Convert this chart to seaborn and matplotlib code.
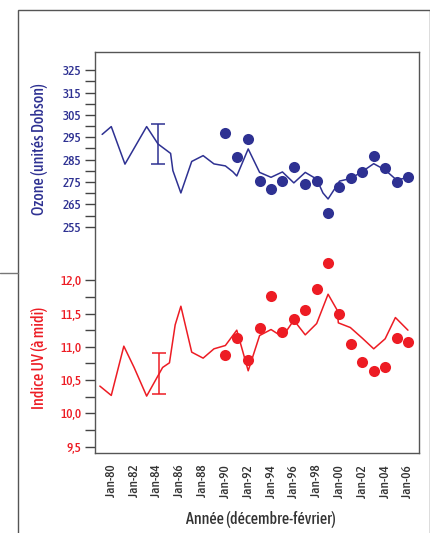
import numpy as np
import matplotlib
matplotlib.use('Agg')
from matplotlib import pyplot as plt
from matplotlib import ticker, font_manager
from matplotlib.lines import Line2D
from matplotlib.patches import Rectangle
import seaborn as sns

sns.set_style('white')

# --- data ---
oz_line_year = [1979.2, 1980.0, 1981.2, 1983.1, 1984.1, 1985.2, 1985.4, 1986.1, 1987.05, 1988.05,
                1989.0, 1990.0, 1990.65, 1991.0, 1992.0, 1993.0, 1994.0, 1995.0, 1996.0, 1997.0,
                1998.0, 1998.55, 1999.0, 1999.8, 2000.0, 2001.0, 2002.0, 2003.0, 2004.0, 2005.0, 2006.0]
oz_line_val = [296.3, 299.8, 283.0, 299.8, 292.0, 287.8, 280.1, 270.1, 284.2, 286.8,
               283.1, 282.2, 279.6, 277.7, 289.8, 279.3, 277.1, 279.5, 274.6, 279.3,
               276.3, 270.1, 267.4, 273.7, 275.4, 276.6, 279.7, 283.2, 280.4, 275.9, 277.0]

uv_line_year = [1979.0, 1980.0, 1981.1, 1982.0, 1983.1, 1984.5, 1985.1, 1985.6, 1986.1, 1987.05,
                1988.05, 1989.0, 1990.0, 1991.0, 1992.0, 1993.0, 1994.0, 1995.0, 1996.0, 1997.0,
                1998.0, 1999.0, 1999.8, 1999.9, 2000.95, 2002.0, 2003.0, 2004.0, 2004.9, 2006.0]
uv_line_val = [10.41, 10.27, 11.01, 10.69, 10.26, 10.69, 10.76, 11.33, 11.61, 10.92,
               10.83, 10.97, 11.02, 11.25, 10.64, 11.17, 11.26, 11.15, 11.40, 11.18,
               11.35, 11.79, 11.55, 11.36, 11.29, 11.13, 10.97, 11.12, 11.44, 11.25]

obs_year = list(range(1990, 2007))
oz_obs = [297.1, 286.1, 294.1, 275.4, 271.7, 275.3, 281.6, 274.2, 275.3, 261.0,
          272.6, 276.9, 279.5, 286.5, 281.3, 275.0, 277.1]
uv_obs = [10.87, 11.13, 10.80, 11.29, 11.77, 11.22, 11.42, 11.56, 11.87, 12.26,
          11.50, 11.04, 10.77, 10.63, 10.69, 11.13, 11.07]

oz_err = (1984.1, 292.0, 8.9)
uv_err = (1984.15, 10.60, 0.31)

oz_ticks = list(range(255, 326, 10))
uv_ticks = [9.5, 10.0, 10.5, 11.0, 11.5, 12.0]
x_ticks = list(range(1980, 2007, 2))
x_labels = ['Jan-%02d' % (y % 100) for y in x_ticks]

BLUE = '#2E3192'
RED = '#ED1C24'
DARK = '#333333'

# look for a narrow / condensed face, the original uses one
cond = [f for f in font_manager.fontManager.ttflist
        if f.style == 'normal' and ('Narrow' in f.name or 'Condensed' in f.name
                                    or f.stretch in ('condensed', 'semi-condensed', 'extra-condensed'))]
cond.sort(key=lambda f: abs((f.weight if isinstance(f.weight, int) else 400) - 500))
if cond:
    fp_tick = font_manager.FontProperties(fname=cond[0].fname, size=9.5)
    fp_lab = font_manager.FontProperties(fname=cond[0].fname, size=11.5)
else:
    fp_tick = font_manager.FontProperties(family='DejaVu Sans', size=7.5)
    fp_lab = font_manager.FontProperties(family='DejaVu Sans', size=10)

fig = plt.figure(figsize=(4.31, 5.33), dpi=100)
ax = fig.add_axes([0.2211, 0.1501, 0.7511, 0.7518])
ax2 = ax.twinx()

# UV (red)
sns.lineplot(x=uv_line_year, y=uv_line_val, ax=ax, color=RED, lw=1.1, estimator=None, sort=False)
sns.scatterplot(x=obs_year, y=uv_obs, ax=ax, color=RED, s=64, linewidth=0, zorder=3)
ax.errorbar(uv_err[0], uv_err[1], yerr=uv_err[2], color=RED, capsize=4.7, lw=1.1, capthick=1.1)

# Ozone (blue)
sns.lineplot(x=oz_line_year, y=oz_line_val, ax=ax2, color=BLUE, lw=1.1, estimator=None, sort=False)
sns.scatterplot(x=obs_year, y=oz_obs, ax=ax2, color=BLUE, s=64, linewidth=0, zorder=3)
ax2.errorbar(oz_err[0], oz_err[1], yerr=oz_err[2], color=BLUE, capsize=4.7, lw=1.1, capthick=1.1)

ax.set_xlim(1978.6, 2006.97)
ax.set_ylim(9.405, 15.425)
ax2.set_ylim(153.7, 333.06)

ax.set_xticks(x_ticks)
ax.set_xticklabels(x_labels, rotation=90, color=DARK, fontproperties=fp_tick)
ax.set_xticks(list(range(1979, 2006, 2)), minor=True)

ax.set_yticks(uv_ticks)
ax.set_yticklabels([('%.1f' % v).replace('.', ',') for v in uv_ticks], color=RED, fontproperties=fp_tick)
ax.set_yticks([9.75, 10.25, 10.75, 11.25, 11.75], minor=True)

ax2.yaxis.set_ticks_position('left')
ax2.yaxis.set_label_position('left')
ax2.set_yticks(oz_ticks)
ax2.set_yticklabels([str(v) for v in oz_ticks], color=BLUE, fontproperties=fp_tick)
ax2.set_yticks(list(range(260, 321, 10)), minor=True)

for a in (ax, ax2):
    a.tick_params(axis='both', which='both', direction='out', length=7, width=1, color='#444444', pad=3)
ax.tick_params(axis='x', which='both', length=5.5, pad=3)

for s in ax2.spines.values():
    s.set_visible(False)
for s in ax.spines.values():
    s.set_color('#555555')
    s.set_linewidth(1)

ax.set_ylabel('Indice UV (à midi)', color=RED, fontproperties=fp_lab, va='center')
ax.yaxis.set_label_coords(-0.171, 0.237)
ax2.set_ylabel('Ozone (unités Dobson)', color=BLUE, fontproperties=fp_lab, va='center')
ax2.yaxis.set_label_coords(-0.171, 0.759)
ax.set_xlabel('Année (décembre-février)', color=DARK, fontproperties=fp_lab, va='center')
ax.xaxis.set_label_coords(0.511, -0.167)

# outer frame of the figure
fig.patches.append(Rectangle((18 / 431, -0.05), 412 / 431, 1.05 - 10 / 533, transform=fig.transFigure,
                             fill=False, edgecolor='#555555', lw=1))
fig.lines.append(Line2D([0, 18 / 431], [1 - 273 / 533] * 2, transform=fig.transFigure,
                        color='#777777', lw=1))

plt.savefig('out.png', dpi=100)
